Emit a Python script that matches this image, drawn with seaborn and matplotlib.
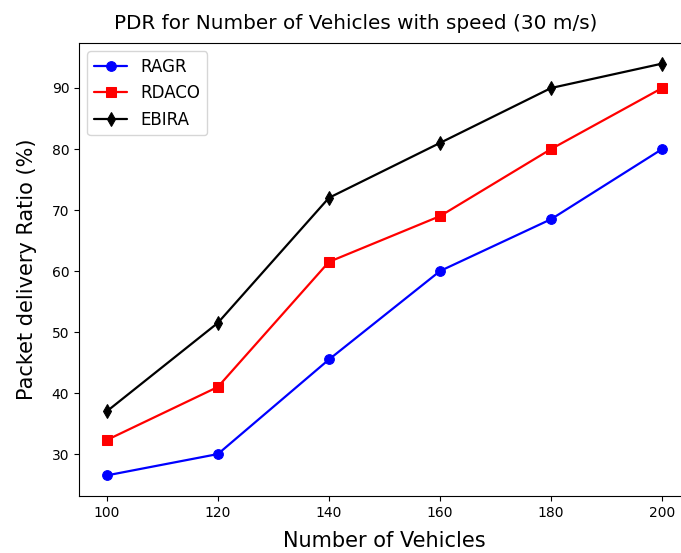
import matplotlib
matplotlib.use("Agg")
import matplotlib.pyplot as plt
import seaborn as sns
import pandas as pd

vehicles = [100, 120, 140, 160, 180, 200]
ragr = [26.5, 30, 45.5, 60, 68.5, 80]
rdaco = [32.3, 41, 61.5, 69, 80, 90]
ebira = [37, 51.5, 72, 81, 90, 94]

series = ["RAGR", "RDACO", "EBIRA"]
colors = {"RAGR": "blue", "RDACO": "red", "EBIRA": "black"}
markers = {"RAGR": "o", "RDACO": "s", "EBIRA": "d"}

df = pd.DataFrame({
    "Vehicles": vehicles * 3,
    "PDR": ragr + rdaco + ebira,
    "Protocol": ["RAGR"] * 6 + ["RDACO"] * 6 + ["EBIRA"] * 6,
})

sns.set_style("ticks", {
    "axes.edgecolor": "black", "text.color": "black",
    "axes.labelcolor": "black", "xtick.color": "black", "ytick.color": "black",
})
plt.rcParams["font.family"] = ["DejaVu Sans"]

fig = plt.figure(figsize=(6.81, 5.53), dpi=100)
ax = fig.add_axes([79 / 681, 57 / 553, 611 / 681, 453 / 553])

for name in series:
    sub = df[df["Protocol"] == name]
    sns.lineplot(data=sub, x="Vehicles", y="PDR", ax=ax, color=colors[name],
                 marker=markers[name], markersize=7, markeredgecolor=colors[name],
                 linewidth=1.6, label=name)

ax.set_xticks(vehicles)
ax.set_yticks([30, 40, 50, 60, 70, 80, 90])
ax.tick_params(labelsize=10)
ax.set_title("PDR for Number of Vehicles with speed (30 m/s)", fontsize=14.4,
             x=(356 - 79) / 611, y=(496 - 29) / 453, pad=0)
ax.set_xlabel("Number of Vehicles", fontsize=15)
ax.set_ylabel("Packet delivery Ratio (%)", fontsize=15)
ax.xaxis.set_label_coords(0.5, (496 - 531) / 453)
ax.yaxis.set_label_coords((37 - 79) / 611, 0.5)
ax.legend(loc="upper left", fontsize=12)
for s in ax.spines.values():
    s.set_visible(True)

fig.savefig("out.png", dpi=100)
